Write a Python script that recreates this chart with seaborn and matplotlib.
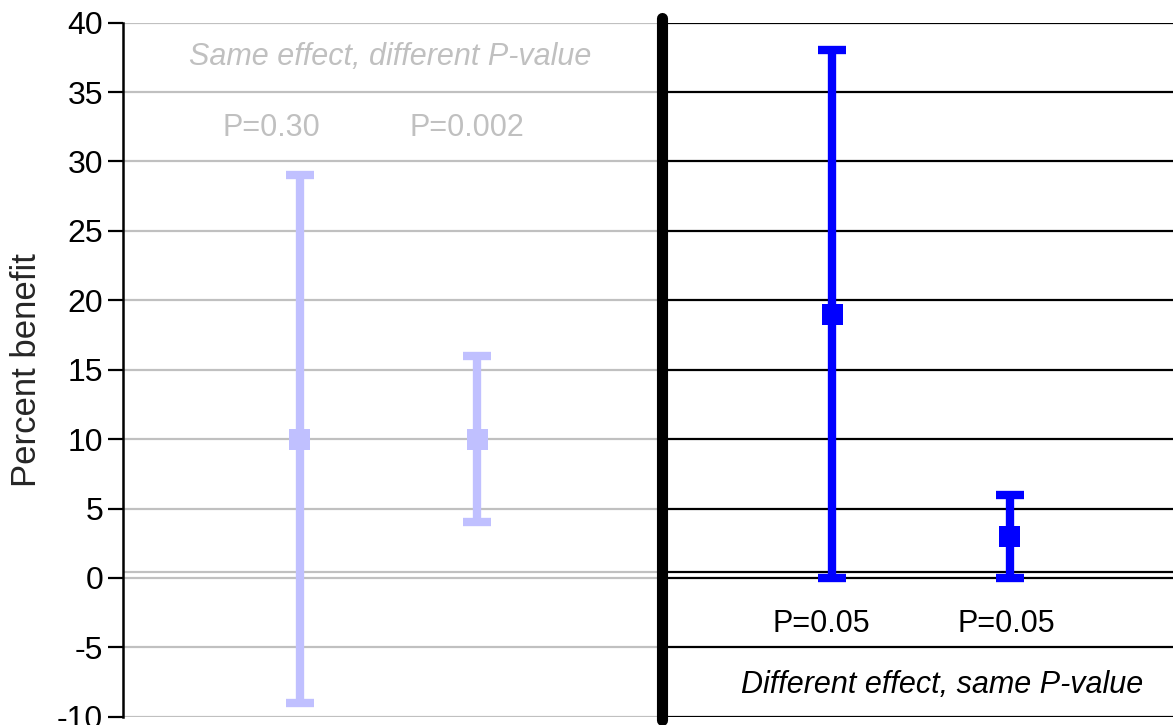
import matplotlib
matplotlib.use('Agg')
import matplotlib.pyplot as plt
import seaborn as sns
import pandas as pd

# data
positions = [1, 2, 4, 5]
effect = [10, 10, 19, 3]
ci_low = [-9, 4, 0, 0]
ci_high = [29, 16, 38, 6]
p_labels = ['P=0.30', 'P=0.002', 'P=0.05', 'P=0.05']
panel = ['same', 'same', 'diff', 'diff']
yticks = list(range(-10, 41, 5))

LIGHT = '#C0C0FF'
BLUE = '#0000FF'
GRID_GRAY = '#C0C0C0'
DIVIDER = 3.04
XMAX = 5.92

df = pd.DataFrame({'x': positions, 'effect': effect, 'low': ci_low,
                   'high': ci_high, 'panel': panel})

sns.set_style('white')
plt.rcParams['font.family'] = ['Liberation Sans', 'DejaVu Sans']
plt.rcParams['axes.unicode_minus'] = False

fig = plt.figure(figsize=(11.73, 7.25), dpi=100)
ax = fig.add_axes([122.5 / 1173, 8.3 / 725, 1050.5 / 1173, 694 / 725])

# gridlines: gray on the left panel, black on the right one
for yv in yticks + [0.4]:
    ax.hlines(yv, 0, DIVIDER, color=GRID_GRAY, lw=1.6, zorder=1)
    ax.hlines(yv, DIVIDER, XMAX, color='black', lw=1.6, zorder=1)

ax.axvline(DIVIDER, ymin=-0.005, ymax=1.007, color='black', lw=8,
           solid_capstyle='round', clip_on=False, zorder=3)

colors = {'same': LIGHT, 'diff': BLUE}
for _, r in df.iterrows():
    ax.errorbar(r['x'], r['effect'],
                yerr=[[r['effect'] - r['low']], [r['high'] - r['effect']]],
                fmt='none', ecolor=colors[r['panel']], elinewidth=6,
                capsize=10, capthick=6, zorder=4)

sns.scatterplot(data=df, x='x', y='effect', hue='panel', palette=colors,
                marker='s', s=230, linewidth=0, legend=False, ax=ax, zorder=5)

# annotations
txt_pos = [(0.84, 32.4), (1.94, 32.4), (3.94, -3.3), (4.98, -3.3)]
for (tx, ty), lab, pn in zip(txt_pos, p_labels, panel):
    ax.text(tx, ty, lab, ha='center', va='center', fontsize=22,
            color=GRID_GRAY if pn == 'same' else 'black')
ax.text(1.51, 37.5, 'Same effect, different P-value', ha='center', va='center',
        fontsize=22, style='italic', color=GRID_GRAY)
ax.text(4.62, -7.7, 'Different effect, same P-value', ha='center', va='center',
        fontsize=22, style='italic', color='black')

ax.set_xlim(0, XMAX)
ax.set_ylim(-10, 40)
ax.set_yticks(yticks)
ax.set_xticks([])
ax.set_xlabel('')
ax.set_ylabel('Percent benefit', fontsize=25, labelpad=10)
ax.tick_params(axis='y', direction='out', length=11, width=1.6, labelsize=23,
               left=True, pad=3, colors='black')
for s in ['top', 'right', 'bottom']:
    ax.spines[s].set_visible(False)
ax.spines['left'].set_color('black')
ax.spines['left'].set_linewidth(1.8)
ax.spines['left'].set_zorder(6)

fig.savefig('out.png', dpi=100)
